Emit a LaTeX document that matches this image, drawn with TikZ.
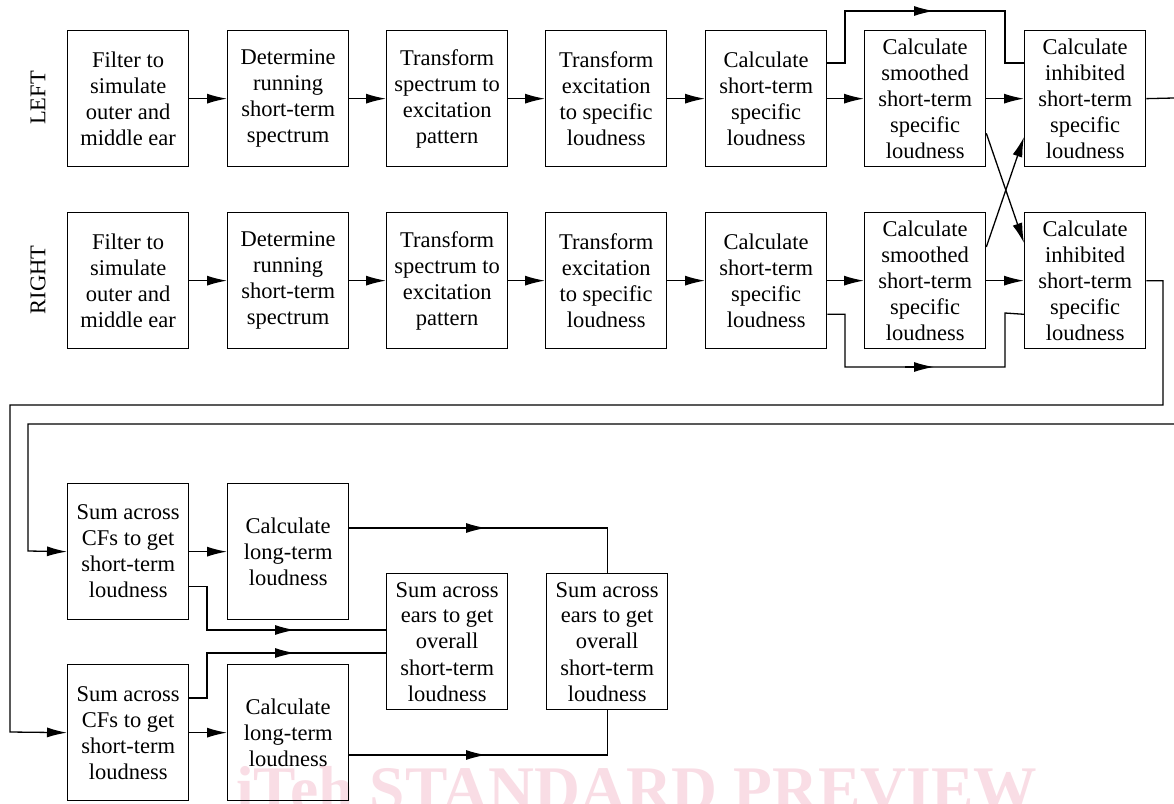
\documentclass[tikz,border=0pt]{standalone}
\usepackage{fontspec}
\setmainfont{Liberation Serif}
\usetikzlibrary{arrows.meta,calc}
\definecolor{wmpink}{RGB}{249,221,229}
\begin{document}
\begin{tikzpicture}[x=1pt,y=-1pt,
  box/.style={draw, line width=1.3pt, minimum width=121pt, minimum height=136pt,
    anchor=north west, align=center, inner sep=0pt,
    font=\fontsize{22.5}{26}\selectfont},
  conn/.style={line width=1.3pt},
  arr/.style={conn, -{Latex[length=20pt,width=10pt]}},
  lbl/.style={rotate=90, font=\fontsize{22.5}{26}\selectfont}]
\useasboundingbox (0,0) rectangle (1174,803);
\clip (0,0) rectangle (1174,803);
\fill[white] (0,0) rectangle (1174,803);
\node[anchor=base west, text=wmpink, inner sep=0pt,
  font=\bfseries\fontsize{63.5}{63.5}\selectfont] (wm) at (236,810) {iTeh STANDARD PREVIEW};

% labels
\node[lbl] (lblL) at (38,98) {LEFT};
\node[lbl] (lblR) at (38,280) {RIGHT};

% row LEFT
\node[box] (L1) at (67,30)   {Filter to\\simulate\\outer and\\middle ear};
\node[box] (L2) at (227,30)  {Determine\\running\\short-term\\spectrum};
\node[box] (L3) at (386,30)  {Transform\\spectrum to\\excitation\\pattern};
\node[box] (L4) at (545,30)  {Transform\\excitation\\to specific\\loudness};
\node[box] (L5) at (705,30)  {Calculate\\short-term\\specific\\loudness};
\node[box] (L6) at (864,30)  {Calculate\\smoothed\\short-term\\specific\\loudness};
\node[box] (L7) at (1024,30) {Calculate\\inhibited\\short-term\\specific\\loudness};
% row RIGHT
\node[box] (R1) at (67,212)   {Filter to\\simulate\\outer and\\middle ear};
\node[box] (R2) at (227,212)  {Determine\\running\\short-term\\spectrum};
\node[box] (R3) at (386,212)  {Transform\\spectrum to\\excitation\\pattern};
\node[box] (R4) at (545,212)  {Transform\\excitation\\to specific\\loudness};
\node[box] (R5) at (705,212)  {Calculate\\short-term\\specific\\loudness};
\node[box] (R6) at (864,212)  {Calculate\\smoothed\\short-term\\specific\\loudness};
\node[box] (R7) at (1024,212) {Calculate\\inhibited\\short-term\\specific\\loudness};

% lower part
\node[box] (S1)  at (67,483)  {Sum across\\CFs to get\\short-term\\loudness};
\node[box] (LT1) at (227,483) {Calculate\\long-term\\loudness};
\node[box] (S2)  at (67,664)  {Sum across\\CFs to get\\short-term\\loudness};
\node[box] (LT2) at (227,664) {Calculate\\long-term\\loudness};
\node[box] (E1)  at (386,573) {Sum across\\ears to get\\overall\\short-term\\loudness};
\node[box] (E2)  at (546,573) {Sum across\\ears to get\\overall\\short-term\\loudness};

% straight chains
\foreach \a/\b in {1/2,2/3,3/4,4/5,5/6,6/7}{
  \draw[arr] (L\a.east) -- (L\b.west);
  \draw[arr] (R\a.east) -- (R\b.west);
}

% bypasses
\draw[conn] ($(L5.north east)+(0,33)$) -| (845,11) -| (1005,63) -- ($(L7.north west)+(0,33)$);
\draw[arr] (905,11) -- (934,11);
\draw[conn] ($(R5.south east)+(0,-35)$) -| (845,367) -| (1005,313) -- ($(R7.south west)+(0,-35)$);
\draw[arr] (905,367) -- (934,367);

% cross connections
\draw[arr] ($(L6.south east)+(0,-34)$) -- ($(R7.north west)+(0,31)$);
\draw[arr] ($(R6.north east)+(0,35)$) -- ($(L7.north west)+(0,107)$);

% outputs of inhibited
\coordinate (edgeOut) at (1174,98);
\coordinate (edgeIn) at (1174,424);
\draw[conn] (L7.east) -- (edgeOut);
\draw[arr] (edgeIn) -| (28,551) -- (S1.west);
\draw[arr] (R7.east) -| (1163,405) -| (10,732) -- (S2.west);

% lower connections
\draw[arr] (S1.east) -- (LT1.west);
\draw[arr] (S2.east) -- (LT2.west);
\draw[conn] ($(S1.south east)+(0,-34)$) -| (207,630) -- ($(E1.north west)+(0,57)$);
\draw[arr] (268,630) -- (295,630);
\draw[conn] ($(S2.north east)+(0,34)$) -| (207,653) -- ($(E1.north west)+(0,80)$);
\draw[arr] (268,653) -- (295,653);
\draw[conn] ($(LT1.north east)+(0,45)$) -| (E2.north);
\draw[arr] (458,528) -- (486,528);
\draw[conn] ($(LT2.north east)+(0,91)$) -| (E2.south);
\draw[arr] (458,755) -- (486,755);
\end{tikzpicture}
\end{document}
